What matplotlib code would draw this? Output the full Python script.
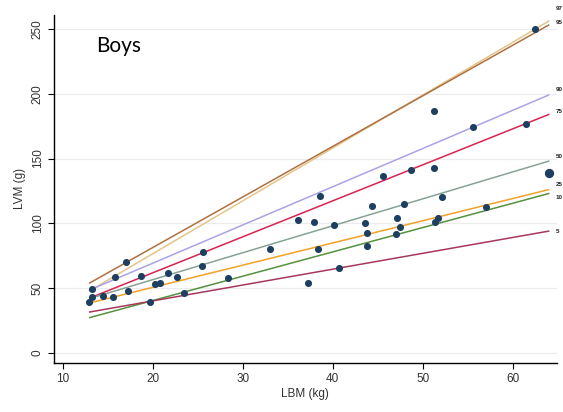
import matplotlib
matplotlib.use("Agg")
import matplotlib.pyplot as plt
import numpy as np

# Percentile reference lines (value at LBM start, value at LBM end)
pct_labels = ["97", "95", "90", "75", "50", "25", "10", "5"]
line_x = [13, 64]
line_start = [48, 54, 48.6, 42.4, 42.0, 38.6, 27.3, 31.6]
line_end = [256, 253, 199, 184, 148, 126, 123, 94]
line_colors = ["#e3c58a", "#b0703f", "#aaa3e6", "#d8234f", "#86a394",
               "#f4a127", "#55913f", "#a8385a"]

# Observed data (LBM kg, LVM g)
obs_lbm = [12.9, 13.3, 13.3, 14.5, 15.6, 15.8, 17.0, 17.2, 18.7, 19.7,
           20.3, 20.8, 21.7, 22.7, 23.5, 25.5, 25.6, 28.4, 33.0, 36.2,
           38.6, 37.9, 40.1, 38.4, 37.3, 40.7, 44.4, 43.6, 43.8, 43.8,
           47.1, 47.9, 47.5, 47.0, 51.3, 55.6, 61.5, 48.7, 51.3, 52.1,
           57.0, 51.7, 51.4, 45.6, 62.5]
obs_lvm = [39.6, 43.4, 49.4, 44.0, 43.0, 58.9, 70.2, 48.1, 59.4, 39.6,
           53.2, 54.2, 61.5, 58.4, 46.5, 67.1, 77.9, 58.1, 80.2, 102.6,
           121.1, 101.1, 98.5, 80.5, 53.8, 65.8, 113.7, 100.5, 92.3, 82.6,
           104.4, 114.7, 97.5, 91.6, 186.7, 174.6, 176.5, 141.2, 142.5, 120.6,
           112.9, 103.9, 101.3, 136.6, 250.0]
edge_lbm = [64.0]
edge_lvm = [138.7]

x_ticks = [10, 20, 30, 40, 50, 60]
y_ticks = [0, 50, 100, 150, 200, 250]

label_offsets = {"97": 9, "95": 2, "90": 4, "75": 2, "50": 3, "25": 4, "10": -3, "5": 0}

plt.rcParams['font.family'] = ['Liberation Sans', 'DejaVu Sans']

fig = plt.figure(figsize=(5.63, 4.12), dpi=100)
ax = fig.add_axes([0.0959, 0.1197, 0.893, 0.844])

for yt in y_ticks:
    ax.axhline(yt, color="#ececec", lw=0.9, zorder=0)

for lab, y0, y1, c in zip(pct_labels, line_start, line_end, line_colors):
    ax.plot(line_x, [y0, y1], color=c, lw=1.1, zorder=2)
    ax.annotate(lab, xy=(line_x[1], y1), xytext=(5, label_offsets[lab]),
                textcoords="offset points", fontsize=4.5, fontweight="bold",
                color="#222222", va="center", ha="left", annotation_clip=False)

ax.scatter(obs_lbm, obs_lvm, s=26, color="#1d3f62", marker="o", zorder=3,
           linewidths=0)
ax.scatter(edge_lbm, edge_lvm, s=45, color="#1d3f62", marker="o", zorder=3,
           linewidths=0, clip_on=False)

ax.set_xlim(9.03, 64.9)
ax.set_ylim(-7.5, 260.8)
ax.set_xticks(x_ticks)
ax.set_yticks(y_ticks)
ax.tick_params(axis="both", labelsize=8.5, labelcolor="#333333", length=4,
               width=0.8, direction="out")
for t in ax.get_yticklabels():
    t.set_rotation(90)
    t.set_va("center")
ax.spines["top"].set_visible(False)
ax.spines["right"].set_visible(False)
ax.spines["left"].set_linewidth(1.0)
ax.spines["bottom"].set_linewidth(1.0)
ax.set_xlabel("LBM (kg)", fontsize=8.5, color="#333333", labelpad=2)
ax.set_ylabel("LVM (g)", fontsize=8.5, color="#333333", labelpad=4)

fig.text(0.171, 0.888, "Boys", fontsize=15, family=["Lato", "DejaVu Sans"],
         color="black", va="center", ha="left")

fig.savefig("out.png", dpi=100)
